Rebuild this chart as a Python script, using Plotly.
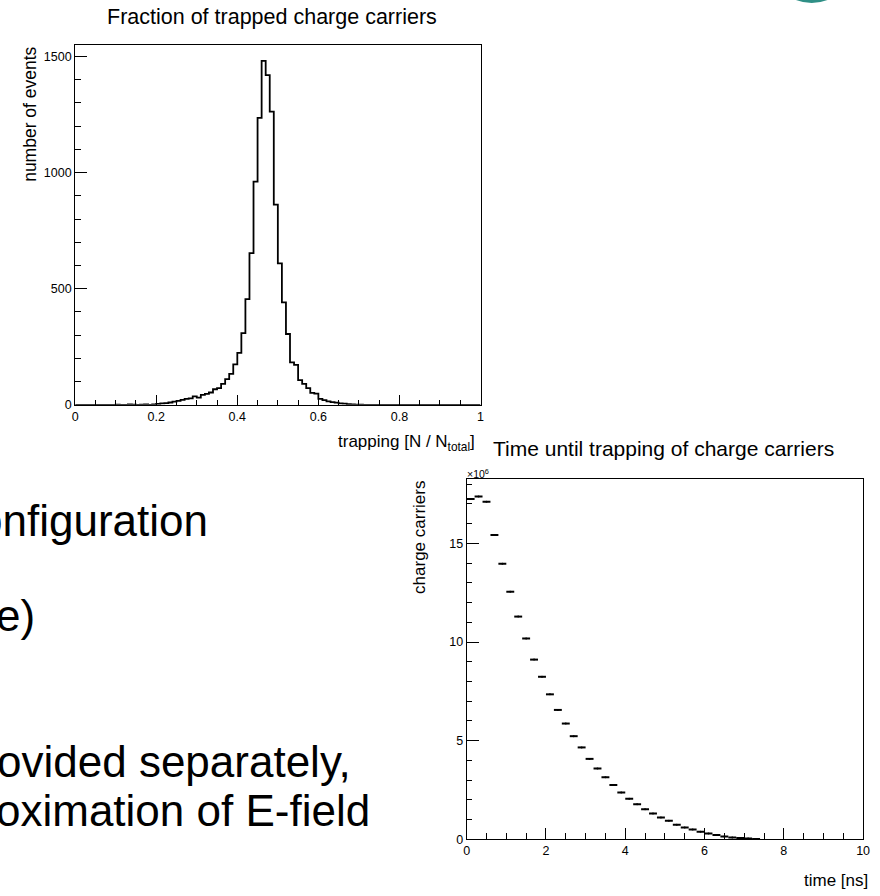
import numpy as np
import plotly.graph_objects as go

# ---------------- data ----------------
# Fraction of trapped charge carriers: 100 bins on [0, 1]
trap_bin_lo, trap_bin_hi, trap_nbins = 0.0, 1.0, 100
trap_counts = [
    0, 0, 0, 0, 0, 0, 0, 0, 0, 0,                 # 0.00-0.09
    1, 0, 0, 2, 1, 0, 1, 2, 0, 2,                 # 0.10-0.19
    4, 6, 7, 10, 14, 17, 21, 26, 28, 36,          # 0.20-0.29
    31, 43, 47, 53, 67, 72, 90, 111, 133, 174,    # 0.30-0.39
    224, 309, 455, 653, 961, 1236, 1481, 1420, 1263, 862,  # 0.40-0.49
    609, 441, 305, 183, 172, 106, 90, 72, 51, 48,  # 0.50-0.59
    26, 20, 15, 12, 9, 6, 5, 3, 2, 1,             # 0.60-0.69
    1, 0, 0, 0, 0, 0, 0, 0, 0, 0,                 # 0.70-0.79
    0, 0, 0, 0, 0, 0, 0, 0, 0, 0,                 # 0.80-0.89
    0, 0, 0, 0, 0, 0, 0, 0, 0, 0,                 # 0.90-0.99
]

# Time until trapping: bins of 0.2 ns starting at 0, values in units of 1e6
time_bin_lo, time_bin_width = 0.0, 0.2
carriers_1e6 = [17.25, 17.38, 17.11, 15.43, 13.97, 12.55, 11.29, 10.18, 9.11, 8.24,
                7.35, 6.56, 5.87, 5.23, 4.66, 4.08, 3.59, 3.15, 2.75, 2.38,
                2.06, 1.78, 1.53, 1.31, 1.11, 0.94, 0.74, 0.60, 0.50, 0.39,
                0.30, 0.22, 0.15, 0.10, 0.07, 0.04, 0.02]

trap_xticks = [0, 0.2, 0.4, 0.6, 0.8, 1]
trap_yticks = [0, 500, 1000, 1500]
time_xticks = [0, 2, 4, 6, 8, 10]
time_yticks = [0, 5, 10, 15]

# ---------------- layout helpers ----------------
W, H = 880, 896
FONT = "Liberation Sans"


def fx(p):
    return p / W


def fy(p):
    return 1 - p / H


edges = np.linspace(trap_bin_lo, trap_bin_hi, trap_nbins + 1)
step_x = list(edges[:-1]) + [edges[-1]]
step_y = list(trap_counts) + [trap_counts[-1]]

time_centers = [time_bin_lo + time_bin_width * (i + 0.5) for i in range(len(carriers_1e6))]

fig = go.Figure()
fig.add_trace(go.Scatter(
    x=step_x, y=step_y, mode="lines",
    line=dict(color="black", width=1.8, shape="hv"),
    xaxis="x", yaxis="y", showlegend=False, hoverinfo="skip"))

fig.add_trace(go.Scatter(
    x=time_centers, y=carriers_1e6, mode="markers",
    marker=dict(size=2, color="black"),
    error_x=dict(type="constant", value=time_bin_width / 2, thickness=2, width=0, color="black"),
    xaxis="x2", yaxis="y2", showlegend=False, hoverinfo="skip"))

axis_common = dict(
    showline=True, linecolor="black", linewidth=1, mirror=True,
    ticks="inside", tickwidth=1, tickcolor="black",
    showgrid=False, zeroline=False,
    tickfont=dict(family=FONT, size=12.5, color="black"),
)

fig.update_layout(
    width=W, height=H,
    margin=dict(l=0, r=0, t=0, b=0),
    paper_bgcolor="white", plot_bgcolor="white",
    showlegend=False,
    xaxis=dict(domain=[fx(73), fx(483)], anchor="y", range=[0, 1],
               tickvals=trap_xticks, ticktext=[f"{v:g}" for v in trap_xticks], ticklen=10,
               minor=dict(ticks="inside", ticklen=5, dtick=0.05, tick0=0, tickcolor="black"),
               **axis_common),
    yaxis=dict(domain=[fy(408), fy(45)], anchor="x", range=[0, 1551],
               tickvals=trap_yticks, ticktext=[str(v) for v in trap_yticks], ticklen=12,
               minor=dict(ticks="inside", ticklen=6, dtick=100, tick0=0, tickcolor="black"),
               **axis_common),
    xaxis2=dict(domain=[fx(469), fx(870)], anchor="y2", range=[0, 10],
                tickvals=time_xticks, ticktext=[str(v) for v in time_xticks], ticklen=11,
                minor=dict(ticks="inside", ticklen=6, dtick=0.5, tick0=0, tickcolor="black"),
                **axis_common),
    yaxis2=dict(domain=[fy(846), fy(483)], anchor="x2", range=[0, 18.25],
                tickvals=time_yticks, ticktext=[str(v) for v in time_yticks], ticklen=12,
                minor=dict(ticks="inside", ticklen=5, dtick=1, tick0=0, tickcolor="black"),
                **axis_common),
)


def ann(text, x, y, size, xanchor="center", yanchor="middle", angle=0):
    return dict(text=text, x=fx(x), y=fy(y), xref="paper", yref="paper",
                xanchor=xanchor, yanchor=yanchor, textangle=angle, showarrow=False,
                font=dict(family=FONT, size=size, color="black"))


annotations = [
    ann("Fraction of trapped charge carriers", 272, 17, 21.5),
    ann("number of events", 27, 45, 17.5, yanchor="top", angle=-90),
    ann("trapping [N / N<sub>total</sub>]", 479, 446, 17, xanchor="right"),
    ann("Time until trapping of charge carriers", 668, 452, 21),
    ann("×10<sup>6</sup>", 467, 477, 10.5, xanchor="left"),
    ann("charge carriers", 422, 483, 17, yanchor="top", angle=-90),
    ann("time [ns]", 877, 887, 17, xanchor="right"),
    # slide text fragments
    ann("onfiguration", 209, 525, 44, xanchor="right"),
    ann("e)", 34, 620, 44, xanchor="right"),
    ann("ovided separately,", 354, 767, 44, xanchor="right"),
    ann("oximation of E-field", 373, 817, 44, xanchor="right"),
]
fig.update_layout(annotations=annotations)

# small logo fragment at the top right of the slide
fig.add_shape(type="circle", xref="paper", yref="paper",
              x0=fx(774), x1=fx(862), y0=fy(3), y1=fy(-85),
              fillcolor="#2f8f86", line=dict(width=0), layer="above")

fig.write_html("out.html", config={"displayModeBar": False},
               post_script="document.body.style.margin='0';")
